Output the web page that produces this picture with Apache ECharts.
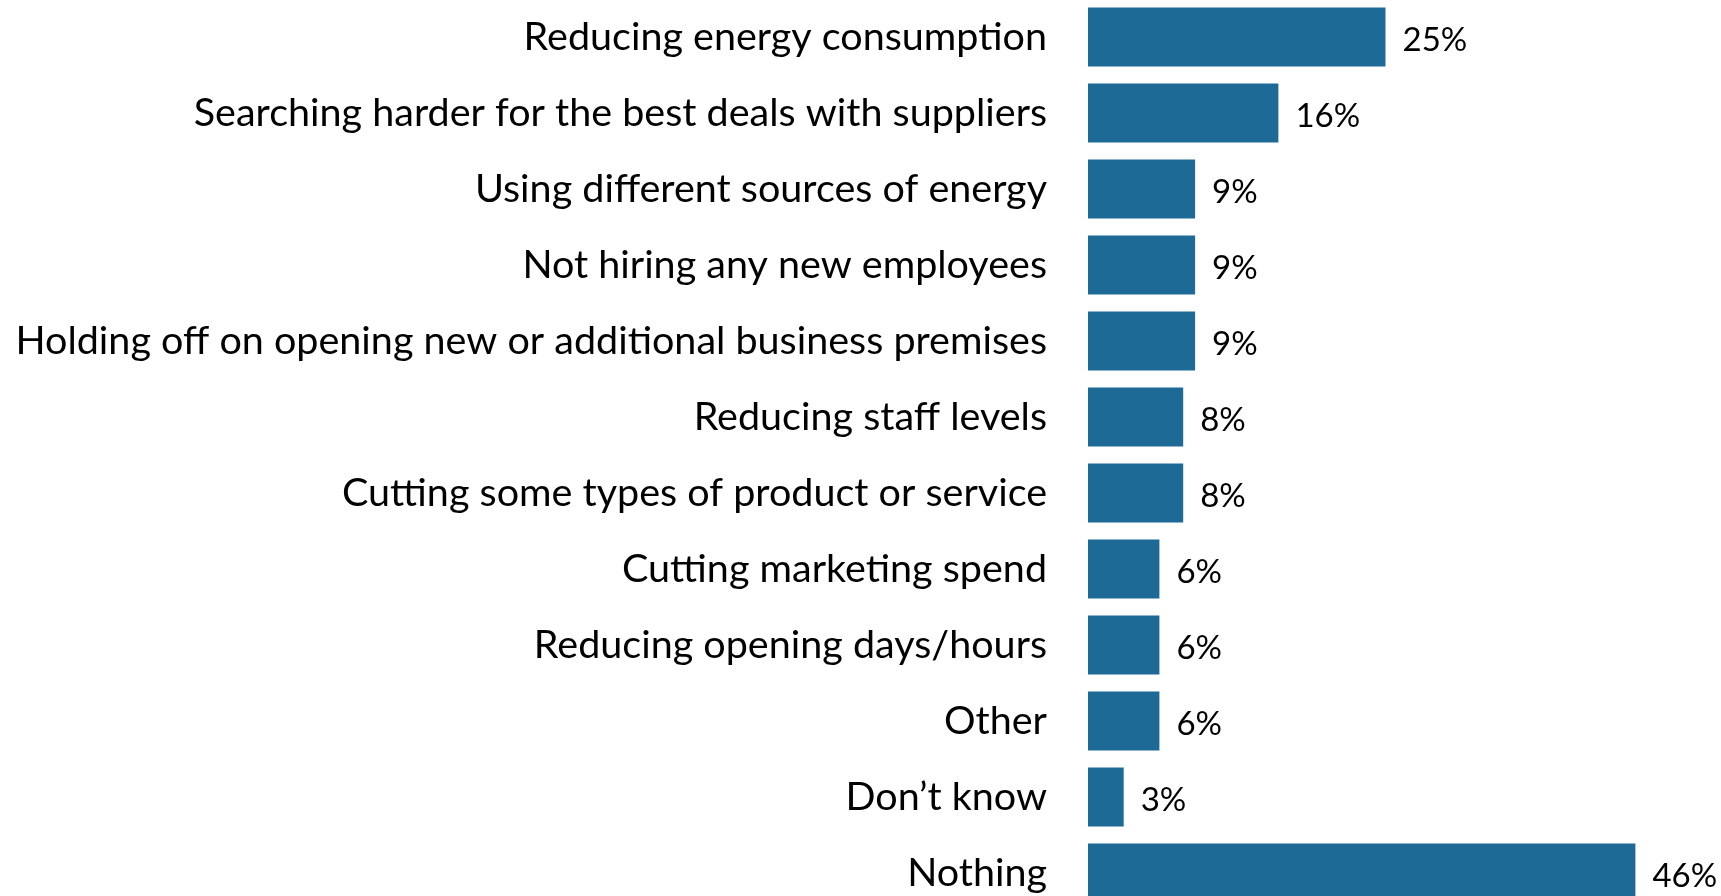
<!DOCTYPE html>
<html>
<head>
<meta charset="utf-8">
<script src="https://cdn.jsdelivr.net/npm/echarts@6/dist/echarts.min.js"></script>
<style>
  html, body { margin: 0; padding: 0; background: #ffffff; }
  #chart { width: 1721px; height: 896px; }
</style>
</head>
<body>
<div id="chart"></div>
<script>
// Actions taken by businesses, share of respondents (%)
const categories = [
  'Reducing energy consumption',
  'Searching harder for the best deals with suppliers',
  'Using different sources of energy',
  'Not hiring any new employees',
  'Holding off on opening new or additional business premises',
  'Reducing staff levels',
  'Cutting some types of product or service',
  'Cutting marketing spend',
  'Reducing opening days/hours',
  'Other',
  'Don\u2019t know',
  'Nothing'
];
const values = [25, 16, 9, 9, 9, 8, 8, 6, 6, 6, 3, 46];

const FONT = 'Lato, "Open Sans", sans-serif';
const chart = echarts.init(document.getElementById('chart'), null, { renderer: 'canvas' });

chart.setOption({
  animation: false,
  backgroundColor: '#ffffff',
  // The last row runs past the bottom edge, so the grid is allowed to overflow.
  grid: { left: 1088, right: 38, top: -1, height: 912, outerBoundsMode: 'none', containLabel: false },
  xAxis: {
    type: 'value',
    min: 0,
    max: 50,
    show: false
  },
  yAxis: {
    type: 'category',
    data: categories,
    inverse: true,
    axisLine: { show: false },
    axisTick: { show: false },
    splitLine: { show: false },
    axisLabel: {
      margin: 41,
      color: '#000000',
      fontFamily: FONT,
      fontSize: 39.5
    }
  },
  series: [{
    type: 'bar',
    data: values,
    barWidth: 59,
    itemStyle: { color: '#1c6a95' },
    label: {
      show: true,
      position: 'right',
      distance: 17,
      formatter: '{c}%',
      color: '#000000',
      fontFamily: FONT,
      fontSize: 33,
      offset: [0, 3]
    }
  }]
});
</script>
</body>
</html>
